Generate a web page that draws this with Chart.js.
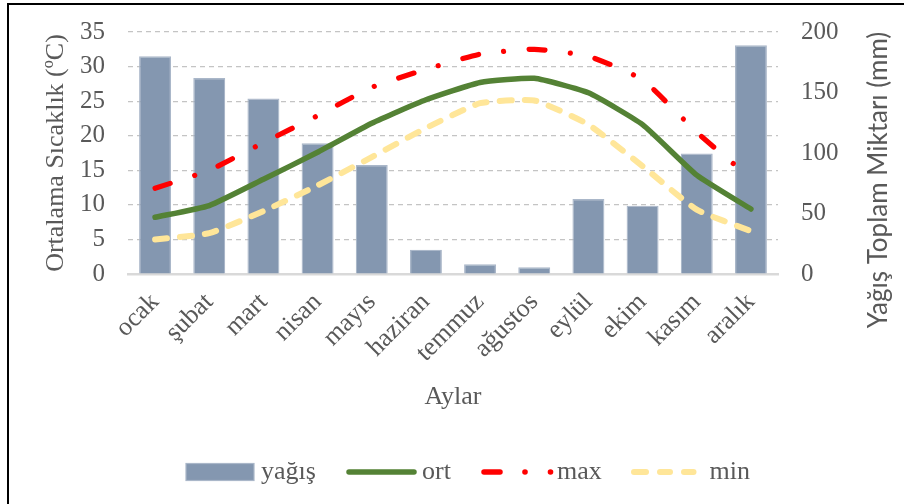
<!DOCTYPE html>
<html><head><meta charset="utf-8">
<script src="https://cdn.jsdelivr.net/npm/chart.js@4/dist/chart.umd.min.js"></script>
<style>
html,body{margin:0;padding:0;background:#fff;}
#wrap{position:relative;width:904px;height:504px;overflow:hidden;}
#frame{position:absolute;left:7px;top:3px;right:-10px;bottom:-10px;border-left:2px solid #000;border-top:2px solid #000;}
canvas{position:absolute;left:0;top:0;}
</style></head><body>
<div id="wrap"><div id="frame"></div><canvas id="c" width="904" height="504"></canvas></div>
<script>
const months = ['ocak','şubat','mart','nisan','mayıs','haziran','temmuz','ağustos','eylül','ekim','kasım','aralık'];
const yagis = [180,162,145,108,90,20,8,5.5,62,56.5,99.5,189];
const ort = [8.2,9.9,13.7,17.6,21.8,25.2,27.7,28.3,26.2,21.6,14.3,9.4];
const maxT = [12.4,15,19,22.9,27,29.6,31.8,32.5,31.5,28.1,20.5,13.8];
const minT = [5,5.9,9.1,12.8,16.9,21.1,24.7,25.1,21.6,15.6,9.3,6.2];
const tempTicks = [0,5,10,15,20,25,30,35];
const rainTicks = [0,50,100,150,200];
const seriesNames = ['yağış','ort','max','min'];
const leftTitle = 'Ortalama Sıcaklık (ºC)';
const rightTitle = 'Yağış Toplam Miktarı (mm)';
const xTitle = 'Aylar';

const SERIF = "'Liberation Serif', 'Times New Roman', serif";
const TXT = '#595959';
const BAR = '#8497B0', BAR_B = '#aab7c9';
const GREEN = '#548235', RED = '#FF0000', YEL = '#FFE699';

const extras = {
  id: 'extras',
  afterDraw(chart) {
    const ctx = chart.ctx;
    ctx.save();
    ctx.fillStyle = TXT;
    ctx.font = "26px Lato";
    ctx.textAlign = 'center';
    ctx.textBaseline = 'middle';
    ctx.translate(879, 180);
    ctx.rotate(-Math.PI / 2);
    ctx.fillText(rightTitle, 0, 0);
    ctx.restore();

    const ly = 472;
    ctx.save();
    ctx.font = "26px " + SERIF;
    ctx.textBaseline = 'middle';
    ctx.textAlign = 'left';
    ctx.fillStyle = BAR;
    ctx.fillRect(186, ly - 8.5, 68, 17);
    ctx.strokeStyle = BAR_B; ctx.lineWidth = 1.2;
    ctx.strokeRect(186, ly - 8.5, 68, 17);
    ctx.fillStyle = TXT;
    ctx.fillText(seriesNames[0], 261, ly);
    ctx.lineCap = 'round';
    ctx.strokeStyle = GREEN; ctx.lineWidth = 5.5;
    ctx.beginPath(); ctx.moveTo(349, ly); ctx.lineTo(414, ly); ctx.stroke();
    ctx.fillText(seriesNames[1], 422, ly);
    ctx.strokeStyle = RED; ctx.lineWidth = 5.5;
    ctx.beginPath(); ctx.moveTo(484, ly); ctx.lineTo(500, ly); ctx.stroke();
    ctx.fillStyle = RED;
    ctx.beginPath(); ctx.arc(525, ly, 2.8, 0, Math.PI * 2); ctx.fill();
    ctx.beginPath(); ctx.arc(550.5, ly, 2.8, 0, Math.PI * 2); ctx.fill();
    ctx.fillStyle = TXT;
    ctx.fillText(seriesNames[2], 557, ly);
    ctx.strokeStyle = YEL; ctx.lineWidth = 6;
    [[634, 646], [660, 670], [684, 693.5]].forEach(([a, b]) => {
      ctx.beginPath(); ctx.moveTo(a, ly); ctx.lineTo(b, ly); ctx.stroke();
    });
    ctx.fillText(seriesNames[3], 709.6, ly);
    ctx.restore();
  }
};

new Chart(document.getElementById('c'), {
  type: 'bar',
  data: {
    labels: months,
    datasets: [
      { type: 'bar', label: seriesNames[0], data: yagis, yAxisID: 'y2', order: 5,
        backgroundColor: BAR, borderColor: BAR_B, borderWidth: 1.2,
        categoryPercentage: 0.59, barPercentage: 1 },
      { type: 'line', label: seriesNames[1], data: ort, yAxisID: 'y', order: 3,
        borderColor: GREEN, borderWidth: 5.5, pointRadius: 0, tension: 0.15,
        borderCapStyle: 'round', borderJoinStyle: 'round', fill: false },
      { type: 'line', label: seriesNames[2], data: maxT, yAxisID: 'y', order: 2,
        borderColor: RED, borderWidth: 5.2, pointRadius: 0, tension: 0.15,
        borderDash: [16, 25.5, 0.01, 25.5], borderCapStyle: 'round', fill: false },
      { type: 'line', label: seriesNames[3], data: minT, yAxisID: 'y', order: 1,
        borderColor: YEL, borderWidth: 6, pointRadius: 0, tension: 0.15,
        borderDash: [12, 13], borderCapStyle: 'round', fill: false }
    ]
  },
  options: {
    responsive: false,
    animation: false,
    events: [],
    layout: { padding: { top: 32, bottom: 80, left: 0, right: 0 } },
    plugins: { legend: { display: false }, tooltip: { enabled: false }, title: { display: false } },
    scales: {
      x: {
        grid: { display: false, drawTicks: false },
        border: { display: true, color: '#d9d9d9', width: 2.5 },
        ticks: { color: TXT, font: { family: SERIF, size: 26 }, minRotation: 45, maxRotation: 45, autoSkip: false, padding: 13 },
        title: { display: true, text: xTitle, color: TXT, font: { family: SERIF, size: 26 }, padding: { top: 0, bottom: 11 } },
        afterFit(s) { s.height = 150; s.paddingLeft = 0; s.paddingRight = 0; }
      },
      y: {
        position: 'left', min: 0, max: 35,
        afterBuildTicks(s) { s.ticks = tempTicks.map(v => ({ value: v })); },
        grid: { color: c => c.tick && c.tick.value === 0 ? 'rgba(0,0,0,0)' : '#c4c4c4', lineWidth: 1.2, drawTicks: false },
        border: { display: false, dash: [5, 4] },
        ticks: { color: TXT, font: { family: SERIF, size: 25 }, padding: 23 },
        title: { display: true, text: leftTitle, color: TXT, font: { family: SERIF, size: 26 }, padding: { top: 41, bottom: 0 } },
        afterFit(s) { s.width = 128; s.paddingTop = 0; s.paddingBottom = 0; }
      },
      y2: {
        position: 'right', min: 0, max: 200,
        afterBuildTicks(s) { s.ticks = rainTicks.map(v => ({ value: v })); },
        grid: { drawOnChartArea: false, drawTicks: false },
        border: { display: false },
        ticks: { color: TXT, font: { family: SERIF, size: 25 }, padding: 23 },
        afterFit(s) { s.width = 126; s.paddingTop = 0; s.paddingBottom = 0; }
      }
    }
  },
  plugins: [extras]
});
</script>
</body></html>
